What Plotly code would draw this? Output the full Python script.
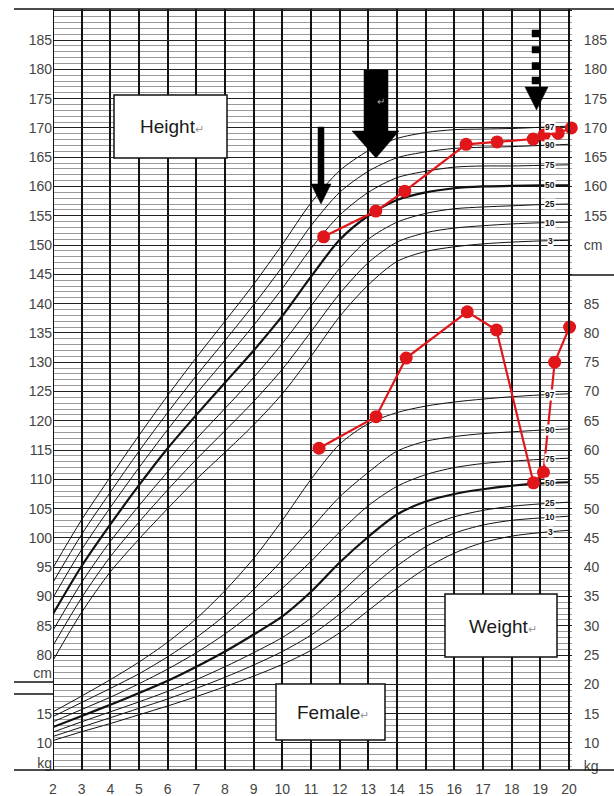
import plotly.graph_objects as go

# ---------------- data ----------------
AGES = [2, 3, 4, 5, 6, 7, 8, 9, 10, 11, 12, 13, 14, 15, 16, 17, 18, 19, 20]
PCTS = ["3", "10", "25", "50", "75", "90", "97"]

# Height percentile curves (cm)
H3  = [79.1, 87.3, 94.2, 99.8, 105.0, 110.0, 114.6, 119.3, 124.6, 131.0, 137.8, 143.2, 147.2, 148.9, 149.7, 150.2, 150.5, 150.7, 150.8]
H10 = [81.6, 89.8, 96.8, 102.7, 108.2, 113.4, 118.3, 123.3, 128.8, 135.2, 141.7, 147.0, 150.5, 152.1, 152.9, 153.3, 153.6, 153.8, 153.9]
H25 = [84.2, 92.4, 99.4, 105.5, 111.3, 116.9, 122.1, 127.4, 133.2, 139.6, 146.0, 151.0, 153.9, 155.4, 156.2, 156.5, 156.7, 156.9, 157.0]
H50 = [87.0, 95.2, 102.3, 109.0, 115.3, 121.0, 126.5, 132.0, 137.9, 144.6, 150.9, 155.0, 157.7, 159.0, 159.7, 160.0, 160.1, 160.2, 160.2]
H75 = [89.8, 98.0, 105.2, 112.0, 118.5, 124.6, 130.4, 136.3, 142.6, 149.4, 155.1, 159.0, 161.5, 162.6, 163.3, 163.5, 163.5, 163.6, 163.7]
H90 = [92.4, 100.6, 107.8, 114.8, 121.4, 127.7, 133.7, 139.8, 146.3, 153.3, 159.0, 162.6, 164.9, 165.9, 166.5, 166.7, 166.8, 167.0, 167.2]
H97 = [94.9, 103.1, 110.4, 117.5, 124.3, 130.8, 137.0, 143.3, 150.1, 157.2, 162.7, 166.1, 168.2, 169.2, 169.7, 169.8, 169.9, 170.1, 170.3]

# Weight percentile curves (kg)
W3  = [10.4, 11.9, 13.3, 14.8, 16.3, 17.9, 19.6, 21.4, 23.4, 25.8, 28.8, 32.6, 36.4, 39.8, 42.4, 44.2, 45.3, 45.9, 46.3]
W10 = [11.1, 12.7, 14.3, 15.9, 17.5, 19.3, 21.2, 23.3, 25.6, 28.4, 32.0, 36.2, 40.2, 43.5, 45.8, 47.2, 48.0, 48.4, 48.7]
W25 = [11.85, 13.6, 15.3, 17.0, 18.8, 20.8, 23.0, 25.4, 28.0, 31.3, 35.5, 40.0, 44.0, 46.8, 48.6, 49.7, 50.4, 50.8, 51.1]
W50 = [12.7, 14.6, 16.5, 18.5, 20.6, 23.0, 25.6, 28.5, 31.6, 35.8, 40.8, 45.2, 49.0, 51.2, 52.5, 53.3, 53.9, 54.3, 54.5]
W75 = [13.6, 15.7, 17.8, 20.1, 22.6, 25.4, 28.6, 32.3, 36.4, 41.0, 46.0, 50.5, 53.8, 55.8, 57.0, 57.7, 58.1, 58.4, 58.6]
W90 = [14.5, 16.9, 19.3, 21.8, 24.7, 28.0, 31.8, 36.2, 41.2, 46.6, 52.0, 56.2, 59.8, 61.5, 62.3, 62.8, 63.1, 63.4, 63.6]
W97 = [15.3, 18.0, 20.8, 23.8, 27.2, 31.2, 36.0, 41.5, 48.0, 55.0, 61.0, 64.5, 66.4, 67.5, 68.2, 68.7, 69.1, 69.4, 69.6]

# Patient measurements
PT_H_AGE = [11.44, 13.26, 14.27, 16.41, 17.49, 18.75, 19.13, 19.62, 20.08]
PT_H_CM  = [151.4, 155.8, 159.2, 167.2, 167.6, 168.1, 168.8, 169.1, 170.0]
PT_W_AGE = [11.28, 13.27, 14.32, 16.45, 17.47, 18.76, 19.11, 19.50, 20.02]
PT_W_KG  = [60.3, 65.7, 75.7, 83.6, 80.5, 54.4, 56.2, 75.0, 81.0]

# Axis tick labels
X_TICKS = list(range(2, 21))
H_TICKS_LEFT = [185, 180, 175, 170, 165, 160, 155, 150, 145, 140, 135, 130, 125, 120,
                115, 110, 105, 100, 95, 90, 85, 80]
W_TICKS_LEFT = [15, 10]
H_TICKS_RIGHT = [185, 180, 175, 170, 165, 160, 155]
W_TICKS_RIGHT = [85, 80, 75, 70, 65, 60, 55, 50, 45, 40, 35, 30, 25, 20, 15, 10]

KG_TO_CM = 55.0           # weight scale sits 55 units below the height scale
H_RANGE = [60.37, 190.3]
W_RANGE = [H_RANGE[0] - KG_TO_CM, H_RANGE[1] - KG_TO_CM]
X_RANGE = [2, 20.1047]

# ---------------- figure ----------------
W, H = 614, 796
ML, MR, MT, MB = 53, 42, 9, 26
PW, PH = W - ML - MR, H - MT - MB


def PX(x):
    return (x - ML) / PW


def PY(y):
    return (H - MB - y) / PH


fig = go.Figure()

h_sets = [H3, H10, H25, H50, H75, H90, H97]
w_sets = [W3, W10, W25, W50, W75, W90, W97]

for p, vals in zip(PCTS, h_sets):
    fig.add_trace(go.Scatter(x=AGES, y=vals, mode="lines", yaxis="y",
                             line=dict(color="#111", width=2.2 if p == "50" else 1.0,
                                       shape="spline", smoothing=0.8),
                             hoverinfo="skip", showlegend=False))
for p, vals in zip(PCTS, w_sets):
    fig.add_trace(go.Scatter(x=AGES, y=vals, mode="lines", yaxis="y2",
                             line=dict(color="#111", width=2.2 if p == "50" else 1.0,
                                       shape="spline", smoothing=0.8),
                             hoverinfo="skip", showlegend=False))

RED = "#e0161b"
fig.add_trace(go.Scatter(x=PT_H_AGE, y=PT_H_CM, mode="lines+markers", yaxis="y",
                         line=dict(color=RED, width=2.2), marker=dict(color=RED, size=13),
                         cliponaxis=False, showlegend=False))
fig.add_trace(go.Scatter(x=PT_W_AGE, y=PT_W_KG, mode="lines+markers", yaxis="y2",
                         line=dict(color=RED, width=2.2), marker=dict(color=RED, size=13),
                         cliponaxis=False, showlegend=False))

# percentile labels near right edge
LBL_AGE = 19.35
frac = LBL_AGE - 19
for p, vals in zip(PCTS, h_sets):
    yv = vals[-2] + (vals[-1] - vals[-2]) * frac
    fig.add_annotation(x=LBL_AGE, y=yv, yref="y", text="<b>%s</b>" % p, showarrow=False,
                       font=dict(size=8.5, color="#111", family="Liberation Sans"),
                       bgcolor="white", borderpad=0)
for p, vals in zip(PCTS, w_sets):
    yv = vals[-2] + (vals[-1] - vals[-2]) * frac
    fig.add_annotation(x=LBL_AGE, y=yv, yref="y2", text="<b>%s</b>" % p, showarrow=False,
                       font=dict(size=8.5, color="#111", family="Liberation Sans"),
                       bgcolor="white", borderpad=0)

shapes = []
# mask grid beyond age 20
shapes.append(dict(type="rect", xref="x", yref="paper", x0=20, x1=X_RANGE[1], y0=0, y1=1,
                   fillcolor="white", line=dict(width=0), layer="below"))
# frame lines
LINE = dict(color="#111", width=1.6)
shapes.append(dict(type="line", xref="paper", yref="paper", x0=PX(14), x1=PX(614), y0=PY(9), y1=PY(9), line=LINE))
shapes.append(dict(type="line", xref="paper", yref="paper", x0=PX(14), x1=PX(614), y0=PY(770), y1=PY(770), line=LINE))
shapes.append(dict(type="line", xref="paper", yref="paper", x0=PX(569), x1=PX(614), y0=PY(275), y1=PY(275), line=LINE))
shapes.append(dict(type="line", xref="paper", yref="paper", x0=PX(14), x1=PX(53), y0=PY(682), y1=PY(682), line=LINE))
shapes.append(dict(type="line", xref="paper", yref="paper", x0=PX(14), x1=PX(53), y0=PY(694), y1=PY(694), line=LINE))
shapes.append(dict(type="line", xref="x", yref="paper", x0=2, x1=2, y0=0, y1=1, line=dict(color="#111", width=2)))
shapes.append(dict(type="line", xref="x", yref="paper", x0=20, x1=20, y0=0, y1=1, line=dict(color="#111", width=2)))

# label boxes
for (x0, y0, x1, y1) in [(114, 95, 227, 158), (445, 594, 557, 657), (276, 684, 385, 740)]:
    shapes.append(dict(type="rect", xref="paper", yref="paper", x0=PX(x0), x1=PX(x1),
                       y0=PY(y1), y1=PY(y0), fillcolor="white",
                       line=dict(color="#111", width=1.5), layer="above"))


def poly(pts):
    return "M " + " L ".join("%.5f,%.5f" % (PX(a), PY(b)) for a, b in pts) + " Z"


# arrows
arrow_paths = [
    poly([(318, 127), (324, 127), (324, 184), (331, 184), (321, 204), (311, 184), (318, 184)]),
    poly([(364, 70), (388, 70), (388, 131), (399, 131), (376, 158), (352, 131), (364, 131)]),
    poly([(525, 87), (548, 87), (536.5, 110)]),
]
for (a, b) in [(30, 37), (46.5, 53), (62.5, 69.5), (77, 84)]:
    arrow_paths.append(poly([(532, a), (540, a), (540, b), (532, b)]))
for pth in arrow_paths:
    shapes.append(dict(type="path", xref="paper", yref="paper", path=pth,
                       fillcolor="#000", line=dict(color="#000", width=0.5), layer="above"))

fig.update_layout(shapes=shapes)

RET = "<span style='font-size:11px;color:#999'>↵</span>"
for txt, (cx, cy) in [("Height", (172, 127)), ("Weight", (503, 626)), ("Female", (333, 712))]:
    fig.add_annotation(xref="paper", yref="paper", x=PX(cx), y=PY(cy), text=txt + RET,
                       xanchor="center", yanchor="middle",
                       showarrow=False, font=dict(size=19, color="#1a1a1a", family="Liberation Sans"))
fig.add_annotation(xref="paper", yref="paper", x=PX(381), y=PY(101), text="↵", showarrow=False,
                   xanchor="center", yanchor="middle",
                   font=dict(size=10, color="#aaa", family="Liberation Sans"))

TICKFONT = dict(size=14, color="#444", family="Liberation Sans")

fig.update_layout(
    width=W, height=H, margin=dict(l=ML, r=MR, t=MT, b=MB, autoexpand=False),
    paper_bgcolor="white", plot_bgcolor="white", showlegend=False,
    xaxis=dict(range=X_RANGE, tickvals=X_TICKS, ticktext=[str(v) for v in X_TICKS],
               showgrid=True, gridcolor="#111", gridwidth=1.5, zeroline=False, showline=False,
               ticks="outside", ticklen=6, tickcolor="rgba(0,0,0,0)", tickfont=TICKFONT,
               automargin=False),
    yaxis=dict(range=H_RANGE, tick0=0, dtick=5, showgrid=True, gridcolor="#222", gridwidth=1.2,
               showticklabels=False, ticks="", zeroline=False, showline=False, automargin=False,
               minor=dict(dtick=1, tick0=0, showgrid=True, gridcolor="#9a9a9a", gridwidth=0.8)),
    yaxis2=dict(range=W_RANGE, overlaying="y", side="right", showgrid=False, zeroline=False,
                tickvals=W_TICKS_RIGHT + [6.0] + [h - KG_TO_CM for h in H_TICKS_RIGHT] + [150 - KG_TO_CM],
                ticktext=[str(v) for v in W_TICKS_RIGHT] + ["kg"] + [str(v) for v in H_TICKS_RIGHT] + ["cm"],
                ticks="outside", ticklen=8, tickcolor="rgba(0,0,0,0)", tickfont=TICKFONT,
                automargin=False),
    yaxis3=dict(range=H_RANGE, overlaying="y", side="left", showgrid=False, zeroline=False,
                tickvals=H_TICKS_LEFT + [77.0] + [w + KG_TO_CM for w in W_TICKS_LEFT] + [61.5],
                ticktext=[str(v) for v in H_TICKS_LEFT] + ["cm"] + [str(v) for v in W_TICKS_LEFT] + ["kg"],
                ticks="", tickfont=TICKFONT, automargin=False),
)
# invisible trace to activate yaxis3
fig.add_trace(go.Scatter(x=[2], y=[100], yaxis="y3", mode="markers",
                         marker=dict(opacity=0), hoverinfo="skip", showlegend=False))

fig.write_html("out.html", config={"displayModeBar": False},
               post_script="document.body.style.margin='0';document.body.style.padding='0';")
